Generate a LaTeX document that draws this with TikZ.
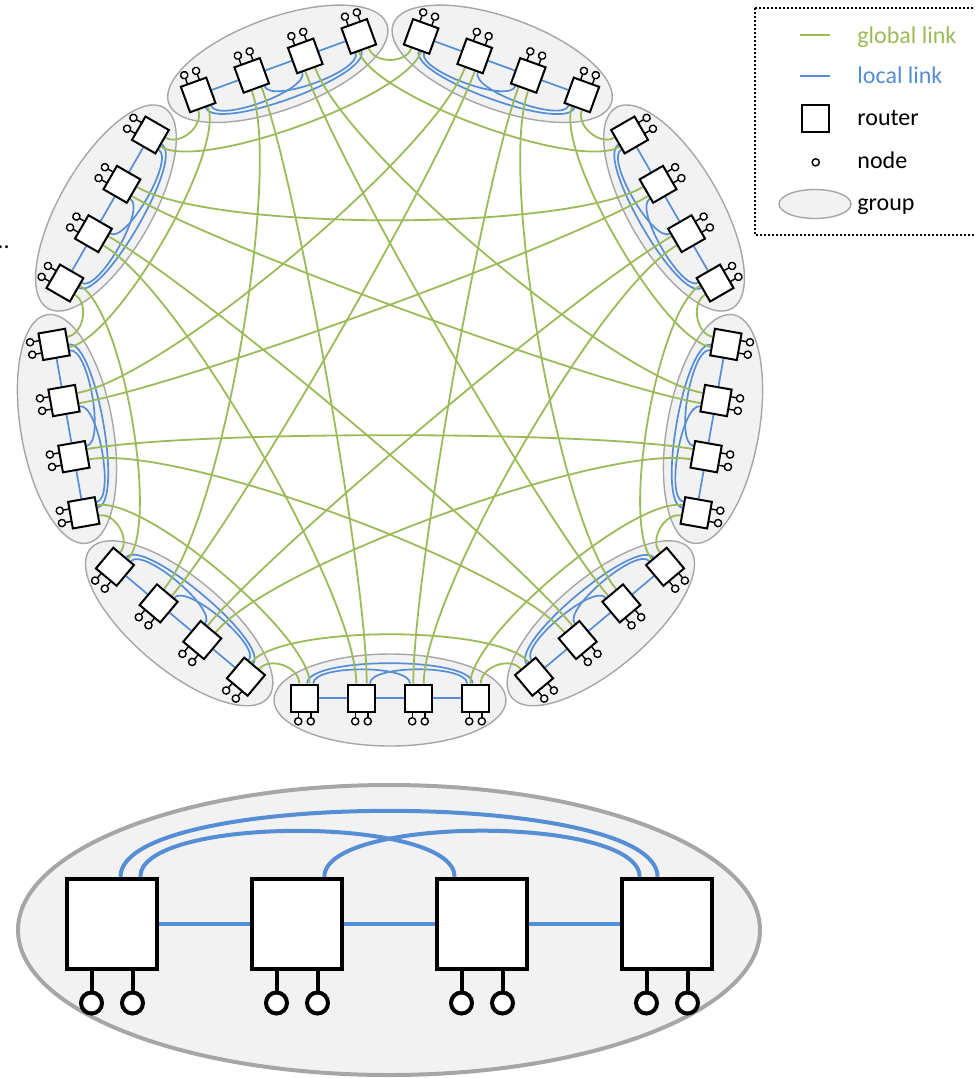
\documentclass[tikz,border=0pt]{standalone}
\usepackage{fontspec}
\setmainfont{Carlito}
\usetikzlibrary{calc,shapes.geometric}
\definecolor{glink}{HTML}{9BBB59}
\definecolor{llink}{HTML}{558ED5}
\definecolor{gfill}{HTML}{F2F2F2}
\definecolor{gedge}{HTML}{A6A6A6}
\pgfdeclarelayer{back}
\pgfdeclarelayer{links}
\pgfsetlayers{back,links,main}
\begin{document}
\begin{tikzpicture}[x=0.5pt,y=0.5pt,
  grp/.style={draw=gedge, fill=gfill, line width=0.7pt},
  rtr/.style={draw=black, fill=white, line width=1pt, rectangle,
              minimum size=13.5pt, inner sep=0pt, transform shape},
  hst/.style={draw=black, line width=0.7pt},
  gl/.style={draw=glink, line width=0.9pt},
  ll/.style={draw=llink, line width=0.85pt},
  lbl/.style={anchor=base west, font=\fontsize{12}{14}\selectfont, inner sep=0pt},
]
\useasboundingbox (0,0) rectangle (975,-1078);

% ---- nine groups of four routers around the ring ----
\foreach \g in {0,...,8}{
  \pgfmathsetmacro\th{-90+40*\g}
  \begin{scope}[shift={(390,-372)}, shift={(\th:326)}, rotate=\th+90]
    \begin{pgfonlayer}{back}
      \draw[grp] (0,-2) ellipse [x radius=116, y radius=46];
    \end{pgfonlayer}
    \foreach \k/\x in {0/85.5,1/28.5,2/-28.5,3/-85.5}{
      \node[rtr] (r\g-\k) at (\x,0) {};
      \foreach \s in {-6.3,6.3}{
        \draw[hst] (\x+\s,-13.5) -- (\x+\s,-19.7);
        \draw[hst, fill=white] (\x+\s,-23.3) circle [radius=3.6];
      }
    }
  \end{scope}
}

\begin{pgfonlayer}{links}
% ---- local links inside each group ----
\foreach \g in {0,...,8}{
  \pgfmathsetmacro\inw{90+40*\g}
  \draw[ll] (r\g-0) -- (r\g-1) -- (r\g-2) -- (r\g-3);
  \draw[ll] ($(r\g-3.north west)!0.59!(r\g-3.north east)$) to[out=\inw, in=\inw, looseness=0.42]
            ($(r\g-0.north west)!0.40!(r\g-0.north east)$);
  \draw[ll] ($(r\g-3.north west)!0.80!(r\g-3.north east)$) to[out=\inw, in=\inw, looseness=0.5]
            ($(r\g-1.north west)!0.21!(r\g-1.north east)$);
  \draw[ll] ($(r\g-2.north west)!0.79!(r\g-2.north east)$) to[out=\inw, in=\inw, looseness=0.5]
            ($(r\g-0.north west)!0.21!(r\g-0.north east)$);
}
% ---- global links: port j of group g goes to group g+j+1 ----
\foreach \g in {0,...,8}{
  \foreach \j in {0,...,7}{
    \pgfmathtruncatemacro\h{mod(\g+\j+1,9)}
    \ifnum\g<\h
      \pgfmathtruncatemacro\jj{mod(\g-\h-1+18,9)}
      \pgfmathtruncatemacro\ka{floor(\j/2)}
      \pgfmathtruncatemacro\kb{floor(\jj/2)}
      \pgfmathsetmacro\fa{ifthenelse(mod(\j,2)==0,0.68,0.32)}
      \pgfmathsetmacro\fb{ifthenelse(mod(\jj,2)==0,0.68,0.32)}
      \pgfmathsetmacro\oa{90+40*\g}
      \pgfmathsetmacro\ob{90+40*\h}
      % neighbouring groups get a short loop, the others gentle curves
      \pgfmathsetmacro\lo{(\j==0 || \j==7) ? 1 : 0.45}
      \draw[gl] ($(r\g-\ka.north west)!\fa!(r\g-\ka.north east)$)
        to[out=\oa, in=\ob, looseness=\lo]
        ($(r\h-\kb.north west)!\fb!(r\h-\kb.north east)$);
    \fi
  }
}
\end{pgfonlayer}

% ---- one group drawn large ----
\begin{pgfonlayer}{back}
  \draw[grp, line width=2pt] (389,-930) ellipse [x radius=371, y radius=145];
\end{pgfonlayer}
\foreach \i/\x in {1/112,2/297,3/482,4/667}{
  \node[rtr, minimum size=45pt, line width=2.2pt] (b\i) at (\x,-924) {};
  \foreach \s in {-20.5,20.5}{
    \draw[hst, line width=2pt] (\x+\s,-970) -- (\x+\s,-992);
    \draw[hst, line width=2pt, fill=white] (\x+\s,-1003) circle [radius=10.5];
  }
}
\begin{pgfonlayer}{links}
  \draw[ll, line width=2pt] (b1) -- (b2) -- (b3) -- (b4);
  \draw[ll, line width=2pt] ($(b1.north west)!0.59!(b1.north east)$) to[out=90, in=90, looseness=0.42]
        ($(b4.north west)!0.40!(b4.north east)$);
  \draw[ll, line width=2pt] ($(b1.north west)!0.80!(b1.north east)$) to[out=90, in=90, looseness=0.5]
        ($(b3.north west)!0.21!(b3.north east)$);
  \draw[ll, line width=2pt] ($(b2.north west)!0.79!(b2.north east)$) to[out=90, in=90, looseness=0.5]
        ($(b4.north west)!0.21!(b4.north east)$);
\end{pgfonlayer}

% ---- legend ----
\draw[line width=0.7pt, dash pattern=on 1pt off 1pt] (755,-8) rectangle (977,-235);
\coordinate (g1) at (800,-35); \coordinate (g2) at (830,-35);
\draw[gl] (g1) -- (g2);
\node[lbl, text=glink] (tg) at (857,-43) {global link};
\coordinate (l1) at (800,-76); \coordinate (l2) at (830,-76);
\draw[ll] (l1) -- (l2);
\node[lbl, text=llink] (tl) at (857,-83) {local link};
\node[rtr] (lr) at (815.5,-118.5) {};
\node[lbl] (tr) at (857,-125) {router};
\node[hst, circle, inner sep=0pt, minimum size=3.6pt, fill=white] (lh) at (815.7,-162.3) {};
\node[lbl] (tn) at (857,-168) {node};
\node[grp, ellipse, minimum width=36pt, minimum height=14.5pt, inner sep=0pt] (le) at (815,-204) {};
\node[lbl] (tgp) at (857,-210) {group};

% text fragment at the left edge
\node[anchor=base east, font=\fontsize{12}{14}\selectfont, inner sep=0pt] (dots) at (10,-248) {..};
\end{tikzpicture}
\end{document}
